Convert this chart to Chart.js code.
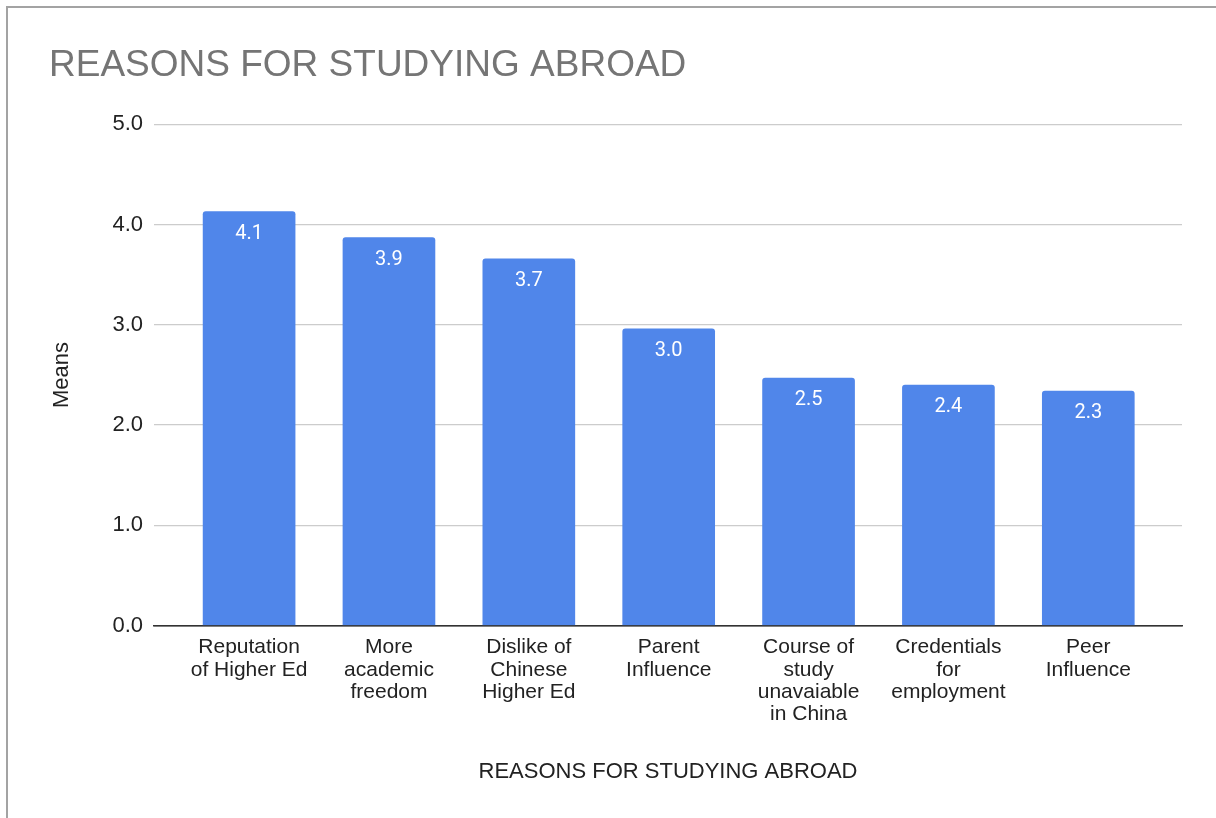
<!DOCTYPE html>
<html>
<head>
<meta charset="utf-8">
<script src="https://cdn.jsdelivr.net/npm/chart.js@4"></script>
<style>
  html, body { margin: 0; padding: 0; background: #fff; }
  #wrap { position: relative; width: 1216px; height: 818px; }
  #frame {
    position: absolute; left: 6px; top: 6px; right: 0; bottom: 0;
    border-top: 2px solid #a3a3a3; border-left: 2px solid #a3a3a3;
    pointer-events: none;
  }
</style>
</head>
<body>
<div id="wrap">
  <canvas id="chart" width="1216" height="818"></canvas>
  <div id="frame"></div>
</div>
<script>
/* ---------- data ---------- */
const categories = [
    ["Reputation", "of Higher Ed"],
    ["More", "academic", "freedom"],
    ["Dislike of", "Chinese", "Higher Ed"],
    ["Parent", "Influence"],
    ["Course of", "study", "unavaiable", "in China"],
    ["Credentials", "for", "employment"],
    ["Peer", "Influence"]
];
const means = [4.13, 3.87, 3.66, 2.96, 2.47, 2.40, 2.34];
const yTicks = [0, 1, 2, 3, 4, 5];

const chartTitle = "REASONS FOR STUDYING ABROAD";
const xTitle = "REASONS FOR STUDYING ABROAD";
const yTitle = "Means";

Chart.defaults.font.family = "'Liberation Sans', Arial, sans-serif";

/* white value labels inside the top of each bar */
const barValueLabels = {
    id: "barValueLabels",
    afterDatasetsDraw(chart) {
        const ctx = chart.ctx;
        const meta = chart.getDatasetMeta(0);
        ctx.save();
        ctx.fillStyle = "#ffffff";
        ctx.font = "20px Roboto, 'Liberation Sans', sans-serif";
        ctx.textAlign = "center";
        ctx.textBaseline = "middle";
        meta.data.forEach((bar, i) => {
            ctx.fillText(means[i].toFixed(1), bar.x, bar.y + 22);
        });
        ctx.restore();
    }
};

new Chart(document.getElementById("chart"), {
    type: "bar",
    data: {
        datasets: [{
            data: means.map((v, i) => ({ x: i, y: v })),
            backgroundColor: "#5086ea",
            borderRadius: 3,
            barThickness: 92
        }]
    },
    options: {
        responsive: false,
        animation: false,
        layout: { padding: { left: 49, right: 34, top: 0, bottom: 33 } },
        plugins: {
            legend: { display: false },
            tooltip: { enabled: false },
            title: {
                display: true,
                text: chartTitle,
                align: "start",
                color: "#757575",
                font: { size: 37, weight: "normal" },
                padding: { top: 44, bottom: 36 }
            }
        },
        scales: {
            x: {
                type: "linear",
                min: -0.68,
                max: 6.67,
                offset: false,
                afterBuildTicks: axis => {
                    axis.ticks = categories.map((_, i) => ({ value: i }));
                },
                grid: { display: false, drawTicks: false },
                border: { display: true, color: "#333333", width: 1.5 },
                ticks: {
                    autoSkip: false,
                    maxRotation: 0,
                    padding: 11,
                    color: "#222222",
                    font: { size: 21, lineHeight: 1.06 },
                    callback: v => categories[v]
                },
                title: {
                    display: true,
                    text: xTitle,
                    color: "#222222",
                    font: { size: 22 },
                    padding: { top: 22, bottom: 0 }
                }
            },
            y: {
                min: 0,
                max: 5,
                afterBuildTicks: axis => {
                    axis.ticks = yTicks.map(v => ({ value: v }));
                },
                grid: {
                    drawTicks: false,
                    color: c => c.tick && c.tick.value === 0 ? "#333333" : "#cccccc",
                    lineWidth: 1.3
                },
                border: { display: false },
                ticks: {
                    padding: 11,
                    color: "#222222",
                    font: { size: 22 },
                    callback: v => v.toFixed(1)
                },
                title: {
                    display: true,
                    text: yTitle,
                    color: "#222222",
                    font: { size: 22 },
                    padding: { top: 0, bottom: 26 }
                }
            }
        }
    },
    plugins: [barValueLabels]
});
</script>
</body>
</html>
